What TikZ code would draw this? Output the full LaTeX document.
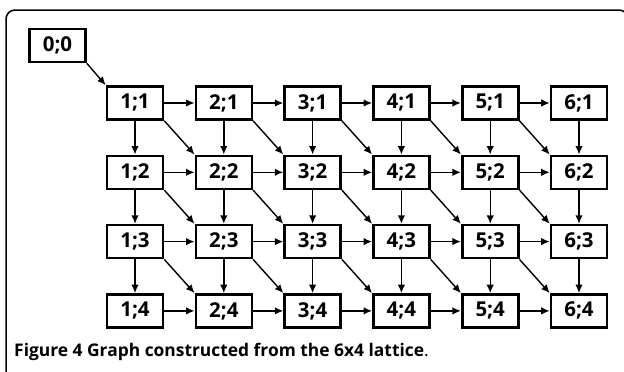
\documentclass[tikz,border=0pt]{standalone}
\usepackage{fontspec}
\setmainfont{Open Sans}
\usetikzlibrary{arrows.meta}
\tikzset{cell/.style={ % lattice vertex box
      draw,
      line width=2.6pt,
      minimum width=56pt,
      minimum height=33pt,
      inner sep=0pt,
      font=\bfseries\fontsize{20.5}{20.5}\selectfont},
      every edge/.style={ % directed lattice edge
      draw,
      -{Latex[length=8.5pt,width=7.5pt]},
      line width=1.4pt}}

\begin{document}
\begin{tikzpicture}[x=1pt,y=-1pt]
      \clip (0,0) rectangle (624,372);
      \draw[line width=1.5pt, rounded corners=9pt] (6,10) rectangle (628,390);
      \node[cell] (c00) at (57.5,45.5) {0;0};
      \foreach \i in {1,...,6}
            \foreach \j in {1,...,4}
                  \node[cell] (c\i\j) at ({135+88.8*(\i-1)},{103+69.3*(\j-1)}) {\i;\j};
      \draw (c00.south east) edge (c11.north west);
      \foreach \i [count=\k from 2] in {1,...,5}
            \foreach \j in {1,...,4}
                  \draw (c\i\j) edge (c\k\j);
      \foreach \i in {1,...,6}
            \foreach \j [count=\l from 2] in {1,2,3}
                  \draw (c\i\j) edge (c\i\l);
      \foreach \i [count=\k from 2] in {1,...,5}
            \foreach \j [count=\l from 2] in {1,2,3}
                  \draw (c\i\j.south east) edge (c\k\l.north west);
      \node[anchor=base west, inner sep=0pt, font=\fontsize{17.4}{17.4}\selectfont] (cap) at (14,356)
            {\textbf{Figure 4 Graph constructed from the 6x4 lattice}.};
\end{tikzpicture}
\end{document}
